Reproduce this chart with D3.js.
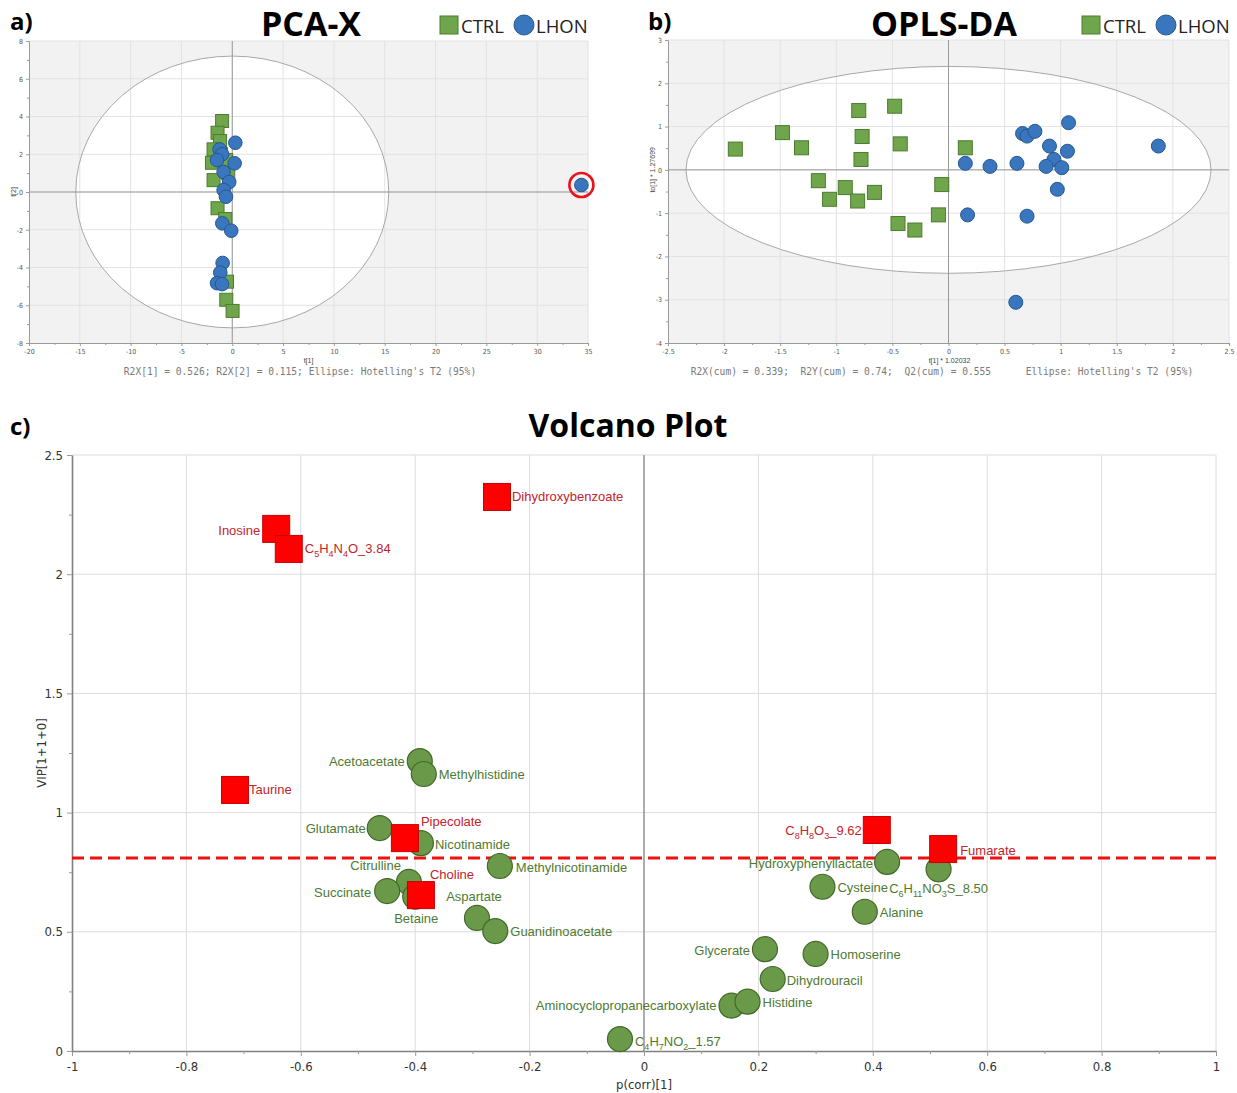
<!DOCTYPE html>
<html>
<head>
<meta charset="utf-8">
<script src="https://cdn.jsdelivr.net/npm/d3@7"></script>
<style>
  body { margin: 0; background: #fff; }
  svg { font-family: "Liberation Sans", Arial, sans-serif; }
</style>
</head>
<body>
<script>
// ---- PCA-X scores [t1, t2]
var pcaCtrl = [[-1.0, 3.76], [-1.45, 3.14], [-1.2, 2.7], [-1.84, 2.26], [-1.1, 2.0], [-2.0, 1.55],
  [-0.6, 1.7], [-1.84, 0.63], [-0.4, 1.0], [-1.45, -0.86], [-0.69, -1.43], [-0.52, -4.75],
  [-0.59, -5.71], [0.03, -6.3]];
var pcaLhon = [[0.3, 2.61], [-1.25, 2.26], [-1.0, 2.0], [-1.5, 1.69], [0.23, 1.52], [-0.85, 1.06],
  [-0.3, 0.53], [-0.85, 0.1], [-0.62, -0.25], [-0.98, -1.66], [-0.1, -2.05], [-0.95, -3.76],
  [-1.18, -4.27], [-1.5, -4.83], [-1.0, -4.88], [34.35, 0.37]];
var pcaOutlier = [34.35, 0.37];

// ---- OPLS-DA scores [t1, to1]
var oplsCtrl = [[-1.9, 0.48], [-1.48, 0.86], [-1.31, 0.51], [-0.8, 1.37], [-0.48, 1.47], [-0.77, 0.77],
  [-0.43, 0.6], [-0.78, 0.24], [0.15, 0.51], [-1.16, -0.25], [-0.92, -0.41], [-1.06, -0.68],
  [-0.81, -0.72], [-0.66, -0.52], [-0.06, -0.34], [-0.09, -1.04], [-0.45, -1.24], [-0.3, -1.39]];
var oplsLhon = [[1.07, 1.09], [0.66, 0.84], [0.7, 0.78], [0.77, 0.89], [0.9, 0.55], [1.06, 0.43],
  [0.94, 0.24], [0.87, 0.08], [1.01, 0.05], [0.61, 0.15], [0.37, 0.08], [0.15, 0.15],
  [0.97, -0.45], [0.17, -1.04], [0.7, -1.07], [1.87, 0.55], [0.6, -3.06]];

// ---- Volcano plot
var metabolites = ["Acetoacetate", "Methylhistidine", "Glutamate", "Nicotinamide", "Methylnicotinamide",
  "Citrulline", "Succinate", "Betaine", "Aspartate", "Guanidinoacetate", "Hydroxyphenyllactate",
  "C{6}H{11}NO{3}S_8.50", "Cysteine", "Alanine", "Glycerate", "Homoserine", "Dihydrouracil",
  "Aminocyclopropanecarboxylate", "Histidine", "C{4}H{7}NO{2}_1.57",
  "Dihydroxybenzoate", "Inosine", "C{5}H{4}N{4}O_3.84", "Taurine", "Pipecolate", "Choline",
  "C{8}H{8}O{3}_9.62", "Fumarate"];
var pCorr = [-0.392, -0.385, -0.462, -0.39, -0.252, -0.411, -0.449, -0.40, -0.292, -0.26, 0.425,
  0.515, 0.312, 0.386, 0.2115, 0.30, 0.225, 0.153, 0.181, -0.042,
  -0.257, -0.643, -0.621, -0.715, -0.418, -0.39, 0.407, 0.523];
var vip = [1.216, 1.162, 0.935, 0.872, 0.776, 0.709, 0.671, 0.647, 0.558, 0.503, 0.793,
  0.762, 0.689, 0.584, 0.427, 0.407, 0.302, 0.19, 0.207, 0.05,
  2.324, 2.19, 2.106, 1.095, 0.893, 0.654, 0.927, 0.847];
var significant = [false, false, false, false, false, false, false, false, false, false, false,
  false, false, false, false, false, false, false, false, false,
  true, true, true, true, true, true, true, true];
var vipCutoff = 0.81;
var volcanoXTicks = [-1, -0.8, -0.6, -0.4, -0.2, 0, 0.2, 0.4, 0.6, 0.8, 1];
var volcanoYTicks = [0, 0.5, 1, 1.5, 2, 2.5];

// label placement: anchor, dx, dy from the marker centre (px)
var labelPos = {
  "Acetoacetate": ["end", -15, 0], "Methylhistidine": ["start", 15, 1], "Glutamate": ["end", -14, 0],
  "Nicotinamide": ["start", 14, 1], "Methylnicotinamide": ["start", 16, 1], "Citrulline": ["end", -8, -16],
  "Succinate": ["end", -16, 1], "Betaine": ["middle", 1, 22], "Aspartate": ["middle", -3, -21],
  "Guanidinoacetate": ["start", 15, 0], "Hydroxyphenyllactate": ["end", -14, 2],
  "C{6}H{11}NO{3}S_8.50": ["middle", 0, 19], "Cysteine": ["start", 15, 1], "Alanine": ["start", 15, 1],
  "Glycerate": ["end", -15, 1], "Homoserine": ["start", 15, 1], "Dihydrouracil": ["start", 14, 1],
  "Aminocyclopropanecarboxylate": ["end", -15, 0], "Histidine": ["start", 15, 1],
  "C{4}H{7}NO{2}_1.57": ["start", 15, 2], "Dihydroxybenzoate": ["start", 15, 0], "Inosine": ["end", -16, 2],
  "C{5}H{4}N{4}O_3.84": ["start", 16, 0], "Taurine": ["start", 14, 0], "Pipecolate": ["start", 16, -17],
  "Choline": ["start", 9, -21], "C{8}H{8}O{3}_9.62": ["end", -15, 0], "Fumarate": ["start", 17, 1]
};

var W = 1237, H = 1093;
var svg = d3.select("body").append("svg").attr("width", W).attr("height", H);

var sqGreen = "#70a64b", sqGreenStroke = "#4c7a30",
  blue = "#3a76bd", blueStroke = "#255890";
var heavy = "'Open Sans', 'DejaVu Sans', sans-serif";
var narrow = "'Liberation Sans Narrow', 'DejaVu Sans Condensed', sans-serif";

function styleAxis(a, size, color) {
  a.select(".domain").attr("stroke", "#9a9a9a");
  a.selectAll(".tick line").attr("stroke", "#9a9a9a");
  a.selectAll("text").attr("font-size", size).attr("fill", color);
}

function scorePlot(p) {
  var x = d3.scaleLinear().domain(p.xDomain).range([p.x0, p.x1]);
  var y = d3.scaleLinear().domain(p.yDomain).range([p.y1, p.y0]);
  var g = svg.append("g");

  g.append("rect").attr("x", p.x0).attr("y", p.y0)
    .attr("width", p.x1 - p.x0).attr("height", p.y1 - p.y0).attr("fill", "#f2f2f2");
  g.append("ellipse").attr("cx", x(0)).attr("cy", y(0))
    .attr("rx", x(p.ellipse[0]) - x(0)).attr("ry", y(0) - y(p.ellipse[1])).attr("fill", "#fff");

  g.selectAll(null).data(p.xTicks.slice(1)).enter().append("line")
    .attr("x1", function (d) { return x(d); }).attr("x2", function (d) { return x(d); })
    .attr("y1", p.y0).attr("y2", p.y1).attr("stroke", "#e2e2e2");
  g.selectAll(null).data(p.yTicks.slice(1)).enter().append("line")
    .attr("y1", function (d) { return y(d); }).attr("y2", function (d) { return y(d); })
    .attr("x1", p.x0).attr("x2", p.x1).attr("stroke", "#e2e2e2");

  g.append("ellipse").attr("cx", x(0)).attr("cy", y(0))
    .attr("rx", x(p.ellipse[0]) - x(0)).attr("ry", y(0) - y(p.ellipse[1]))
    .attr("fill", "none").attr("stroke", "#a8a8a8");
  g.append("line").attr("x1", x(0)).attr("x2", x(0)).attr("y1", p.y0).attr("y2", p.y1).attr("stroke", "#999");
  g.append("line").attr("y1", y(0)).attr("y2", y(0)).attr("x1", p.x0).attr("x2", p.x1).attr("stroke", "#999");

  var ax = g.append("g").attr("transform", "translate(0," + p.y1 + ")")
    .call(d3.axisBottom(x).tickValues(p.xTicks).tickFormat(String).tickSize(3).tickSizeOuter(0).tickPadding(3));
  styleAxis(ax, 7, "#555");
  var axm = g.append("g").attr("transform", "translate(0," + p.y1 + ")")
    .call(d3.axisBottom(x).tickValues(p.xMinor).tickFormat("").tickSize(2).tickSizeOuter(0));
  styleAxis(axm, 7, "#555");
  var ay = g.append("g").attr("transform", "translate(" + p.x0 + ",0)")
    .call(d3.axisLeft(y).tickValues(p.yTicks).tickFormat(String).tickSize(3).tickSizeOuter(0).tickPadding(3));
  styleAxis(ay, 7, "#555");
  var aym = g.append("g").attr("transform", "translate(" + p.x0 + ",0)")
    .call(d3.axisLeft(y).tickValues(p.yMinor).tickFormat("").tickSize(2).tickSizeOuter(0));
  styleAxis(aym, 7, "#555");
  [ax, ay].forEach(function (a) { a.attr("font-family", narrow); });

  g.append("text").attr("x", (p.x0 + p.x1) / 2 + p.xLabelShift).attr("y", p.y1 + 20)
    .attr("text-anchor", "middle").attr("font-size", 7).attr("fill", "#444").text(p.xLabel);
  g.append("text").attr("transform", "translate(" + (p.x0 - 13) + "," + y(0) + ") rotate(-90)")
    .attr("text-anchor", "middle").attr("font-size", 7).attr("fill", "#444").text(p.yLabel);

  var s = p.sq;
  g.selectAll(null).data(p.ctrl).enter().append("rect")
    .attr("x", function (d) { return x(d[0]) - s / 2; }).attr("y", function (d) { return y(d[1]) - s / 2; })
    .attr("width", s).attr("height", s).attr("fill", sqGreen).attr("stroke", sqGreenStroke).attr("stroke-width", 1);
  g.selectAll(null).data(p.lhon).enter().append("circle")
    .attr("cx", function (d) { return x(d[0]); }).attr("cy", function (d) { return y(d[1]); })
    .attr("r", p.r).attr("fill", blue).attr("stroke", blueStroke).attr("stroke-width", 1);

  if (p.outlier) {
    g.append("circle").attr("cx", x(p.outlier[0])).attr("cy", y(p.outlier[1])).attr("r", 12)
      .attr("fill", "none").attr("stroke", "#e8131b").attr("stroke-width", 2.6);
  }

  // titles, legend, footer
  g.append("text").attr("x", p.tagX).attr("y", 30).style("font-family", heavy)
    .attr("font-weight", "bold").attr("font-size", 24).attr("fill", "#000").text(p.tag);
  g.append("text").attr("x", p.titleX).attr("y", 36).attr("text-anchor", "middle").style("font-family", heavy)
    .attr("font-weight", "bold").attr("font-size", 34).attr("fill", "#000").text(p.title);
  var lx = p.legendX;
  g.append("rect").attr("x", lx).attr("y", 16).attr("width", 18).attr("height", 18)
    .attr("fill", sqGreen).attr("stroke", sqGreenStroke);
  g.append("text").attr("x", lx + 21).attr("y", 33).style("font-family", heavy)
    .attr("font-size", 18.5).attr("fill", "#222").text("CTRL");
  g.append("circle").attr("cx", lx + 84).attr("cy", 25).attr("r", 10)
    .attr("fill", blue).attr("stroke", blueStroke);
  g.append("text").attr("x", lx + 96).attr("y", 33).style("font-family", heavy)
    .attr("font-size", 18.5).attr("fill", "#222").text("LHON");
  g.append("text").attr("x", p.footerX).attr("y", 375).attr("text-anchor", "middle")
    .style("font-family", "'DejaVu Sans Mono', 'Liberation Mono', monospace").attr("font-size", 9.6)
    .attr("fill", "#7a7a7a").style("white-space", "pre").text(p.footer);
}

scorePlot({
  x0: 29, x1: 588, y0: 41, y1: 343,
  xDomain: [-20, 35], yDomain: [-8, 8],
  xTicks: d3.range(-20, 36, 5), xMinor: d3.range(-17.5, 35, 5),
  yTicks: d3.range(-8, 9, 2), yMinor: d3.range(-7, 8, 2),
  ellipse: [15.4, 7.2], sq: 13, r: 6.8,
  ctrl: pcaCtrl, lhon: pcaLhon, outlier: pcaOutlier,
  xLabel: "t[1]", xLabelShift: 0, yLabel: "t[2]",
  tag: "a)", tagX: 10, title: "PCA-X", titleX: 311, legendX: 440,
  footerX: 300, footer: "R2X[1] = 0.526; R2X[2] = 0.115; Ellipse: Hotelling's T2 (95%)"
});

scorePlot({
  x0: 668, x1: 1229, y0: 40, y1: 343,
  xDomain: [-2.5, 2.5], yDomain: [-4, 3],
  xTicks: [-2.5, -2, -1.5, -1, -0.5, 0, 0.5, 1, 1.5, 2, 2.5], xMinor: d3.range(-2.25, 2.5, 0.5),
  yTicks: [-4, -3, -2, -1, 0, 1, 2, 3], yMinor: d3.range(-3.5, 3, 1),
  ellipse: [2.34, 2.39], sq: 14, r: 7,
  ctrl: oplsCtrl, lhon: oplsLhon, outlier: null,
  xLabel: "t[1] * 1.02032", xLabelShift: 1, yLabel: "to[1] * 1.27699",
  tag: "b)", tagX: 648, title: "OPLS-DA", titleX: 944, legendX: 1082,
  footerX: 942, footer: "R2X(cum) = 0.339;  R2Y(cum) = 0.74;  Q2(cum) = 0.555      Ellipse: Hotelling's T2 (95%)"
});

// ---- volcano plot
var vx = d3.scaleLinear().domain([-1, 1]).range([72, 1216]);
var vy = d3.scaleLinear().domain([0, 2.5]).range([1051, 455]);
var vg = svg.append("g");

vg.append("text").attr("x", 10).attr("y", 435).style("font-family", heavy)
  .attr("font-weight", "bold").attr("font-size", 24).attr("fill", "#000").text("c)");
vg.append("text").attr("x", 628).attr("y", 437).attr("text-anchor", "middle").style("font-family", heavy)
  .attr("font-weight", "bold").attr("font-size", 32).attr("fill", "#000").text("Volcano Plot");

vg.selectAll(null).data(volcanoXTicks.slice(1)).enter().append("line")
  .attr("x1", function (d) { return vx(d); }).attr("x2", function (d) { return vx(d); })
  .attr("y1", vy(2.5)).attr("y2", vy(0)).attr("stroke", "#dcdcdc");
vg.selectAll(null).data(volcanoYTicks.slice(1)).enter().append("line")
  .attr("y1", function (d) { return vy(d); }).attr("y2", function (d) { return vy(d); })
  .attr("x1", vx(-1)).attr("x2", vx(1)).attr("stroke", "#dcdcdc");
vg.append("line").attr("x1", vx(0)).attr("x2", vx(0)).attr("y1", vy(2.5)).attr("y2", vy(0))
  .attr("stroke", "#8a8a8a").attr("stroke-width", 1.3);

var vax = vg.append("g").attr("transform", "translate(0," + vy(0) + ")")
  .call(d3.axisBottom(vx).tickValues(volcanoXTicks).tickFormat(String).tickSize(5).tickSizeOuter(0).tickPadding(6));
styleAxis(vax, 13, "#333");
vax.attr("font-family", narrow);
vax.select(".domain").attr("stroke", "#808080").attr("stroke-width", 1.6);
var vaxm = vg.append("g").attr("transform", "translate(0," + vy(0) + ")")
  .call(d3.axisBottom(vx).tickValues(d3.range(-0.9, 1, 0.2)).tickFormat("").tickSize(3).tickSizeOuter(0));
styleAxis(vaxm, 13, "#333");
vaxm.select(".domain").remove();

var vay = vg.append("g").attr("transform", "translate(" + vx(-1) + ",0)")
  .call(d3.axisLeft(vy).tickValues(volcanoYTicks).tickFormat(String).tickSize(5).tickSizeOuter(0).tickPadding(4));
styleAxis(vay, 13, "#333");
vay.attr("font-family", narrow);
vay.select(".domain").attr("stroke", "#808080").attr("stroke-width", 1.6);
var vaym = vg.append("g").attr("transform", "translate(" + vx(-1) + ",0)")
  .call(d3.axisLeft(vy).tickValues(d3.range(0.25, 2.5, 0.5)).tickFormat("").tickSize(3).tickSizeOuter(0));
styleAxis(vaym, 13, "#333");
vaym.select(".domain").remove();

vg.append("text").attr("x", vx(0)).attr("y", 1089).attr("text-anchor", "middle")
  .style("font-family", narrow).attr("font-size", 13).attr("fill", "#333").text("p(corr)[1]");
vg.append("text").attr("transform", "translate(46," + vy(1.25) + ") rotate(-90)").attr("text-anchor", "middle")
  .style("font-family", narrow).attr("font-size", 13).attr("fill", "#333").text("VIP[1+1+0]");

// VIP cut-off
vg.append("line").attr("x1", vx(-1)).attr("x2", vx(1)).attr("y1", vy(vipCutoff)).attr("y2", vy(vipCutoff))
  .attr("stroke", "#ee1111").attr("stroke-width", 3).attr("stroke-dasharray", "12,6");

var volcano = metabolites.map(function (m, i) {
  return { name: m, x: pCorr[i], y: vip[i], sig: significant[i] };
});

vg.selectAll(null).data(volcano.filter(function (d) { return !d.sig; })).enter().append("circle")
  .attr("cx", function (d) { return vx(d.x); }).attr("cy", function (d) { return vy(d.y); })
  .attr("r", 12.5).attr("fill", "#6a9a49").attr("stroke", "#42692a").attr("stroke-width", 1.2);
vg.selectAll(null).data(volcano.filter(function (d) { return d.sig; })).enter().append("rect")
  .attr("x", function (d) { return vx(d.x) - 13.5; }).attr("y", function (d) { return vy(d.y) - 13.5; })
  .attr("width", 27).attr("height", 27).attr("fill", "#ff0000").attr("stroke", "#c80000").attr("stroke-width", 1);

function richText(sel, str) {
  var parts = str.split(/(\{[^}]*\})/), shifted = false;
  parts.forEach(function (s) {
    if (!s) return;
    if (s[0] === "{") {
      sel.append("tspan").attr("dy", shifted ? 0 : 4).attr("font-size", 9).text(s.slice(1, -1));
      shifted = true;
    } else {
      sel.append("tspan").attr("dy", shifted ? -4 : 0).text(s);
      shifted = false;
    }
  });
}

volcano.forEach(function (d) {
  var lp = labelPos[d.name];
  var t = vg.append("text").attr("x", vx(d.x) + lp[1]).attr("y", vy(d.y) + lp[2] + 4.5)
    .attr("text-anchor", lp[0]).attr("font-size", 13)
    .attr("fill", d.sig ? "#c4232b" : "#4e7a31");
  richText(t, d.name);
});
</script>
</body>
</html>
